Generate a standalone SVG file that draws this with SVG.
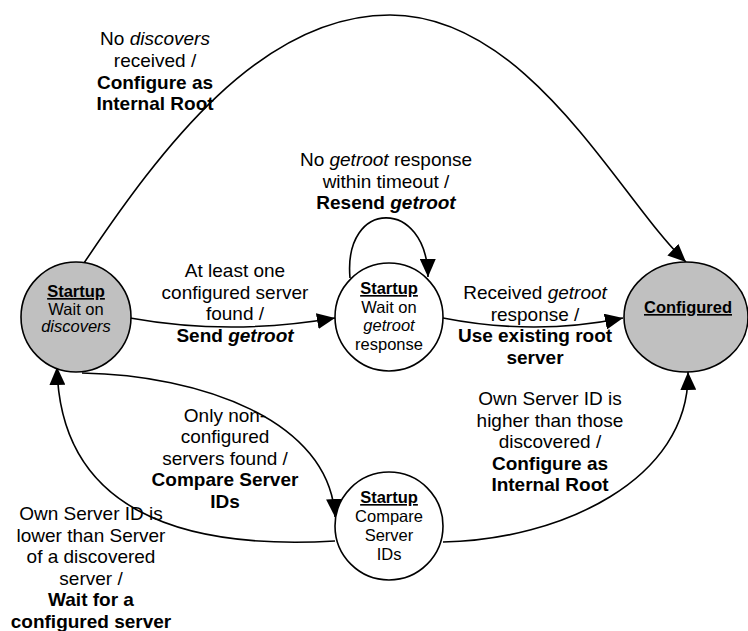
<svg xmlns="http://www.w3.org/2000/svg" width="748" height="631" viewBox="0 0 748 631">
<style>
  text { font-family: "Liberation Sans", Arial, sans-serif; fill: #000; text-anchor: middle; }
  .n { font-size: 16.5px; }
  .l { font-size: 19px; }
  .b { font-weight: bold; }
  .i { font-style: italic; }
  .u { font-weight: bold; text-decoration: underline; }
  .node { stroke: #000; stroke-width: 1.6; }
  .gray { fill: #c0c0c0; }
  .white { fill: #fff; }
  .edge { fill: none; stroke: #000; stroke-width: 1.6; marker-end: url(#arr); }
</style>
<defs>
  <marker id="arr" markerUnits="userSpaceOnUse" markerWidth="18" markerHeight="16" viewBox="0 0 18 16" refX="18" refY="8" orient="auto">
    <path d="M0,0 L18,8 L0,16 Z" fill="#000"/>
  </marker>
</defs>
<rect width="748" height="631" fill="#fff"/>
<g id="connectors">
  <path class="edge" d="M84,263 C160,150 260,15 390,15 C530,15 620,200 686,262"/>
  <path class="edge" d="M130,318 Q230,336 335,318"/>
  <path class="edge" d="M443,318 Q535,336 623,318"/>
  <path class="edge" d="M350,278 C343,198 427,198 428,277"/>
  <path class="edge" d="M82,373 C200,375 330,420 335,517"/>
  <path class="edge" d="M335,541 C180,550 60,510 57,367"/>
  <path class="edge" d="M443,542 C560,540 690,480 688,372"/>
</g>
<g id="labels">
  <text class="l" x="155" y="45">No <tspan class="i">discovers</tspan></text>
  <text class="l" x="155" y="67">received /</text>
  <text class="l b" x="155" y="88.5">Configure as</text>
  <text class="l b" x="155" y="110">Internal Root</text>

  <text class="l" x="386" y="166">No <tspan class="i">getroot</tspan> response</text>
  <text class="l" x="386" y="187.5">within timeout /</text>
  <text class="l b" x="386" y="209">Resend <tspan class="i">getroot</tspan></text>

  <text class="l" x="235" y="277">At least one</text>
  <text class="l" x="235" y="298.5">configured server</text>
  <text class="l" x="235" y="320">found /</text>
  <text class="l b" x="235" y="341.5">Send <tspan class="i">getroot</tspan></text>

  <text class="l" x="535" y="299">Received <tspan class="i">getroot</tspan></text>
  <text class="l" x="535" y="320.5">response /</text>
  <text class="l b" x="535" y="342">Use existing root</text>
  <text class="l b" x="535" y="363.5">server</text>

  <text class="l" x="550" y="405">Own Server ID is</text>
  <text class="l" x="550" y="426.5">higher than those</text>
  <text class="l" x="550" y="448">discovered /</text>
  <text class="l b" x="550" y="469.5">Configure as</text>
  <text class="l b" x="550" y="491">Internal Root</text>

  <text class="l" x="225" y="421.5">Only non-</text>
  <text class="l" x="225" y="443">configured</text>
  <text class="l" x="225" y="464.5">servers found /</text>
  <text class="l b" x="225" y="486">Compare Server</text>
  <text class="l b" x="225" y="507.5">IDs</text>

  <text class="l" x="91" y="520">Own Server ID is</text>
  <text class="l" x="91" y="541.5">lower than Server</text>
  <text class="l" x="91" y="563">of a discovered</text>
  <text class="l" x="91" y="584.5">server /</text>
  <text class="l b" x="91" y="606">Wait for a</text>
  <text class="l b" x="91" y="627.5">configured server</text>
</g>
<g id="startup-discovers">
  <circle class="node gray" cx="76" cy="317" r="55"/>
  <text class="n u" x="76" y="297">Startup</text>
  <text class="n" x="76" y="314.5">Wait on</text>
  <text class="n i" x="76" y="332">discovers</text>
</g>
<g id="startup-getroot">
  <circle class="node white" cx="389" cy="317" r="54"/>
  <text class="n u" x="389" y="294">Startup</text>
  <text class="n" x="389" y="312.5">Wait on</text>
  <text class="n i" x="389" y="331">getroot</text>
  <text class="n" x="389" y="349.5">response</text>
</g>
<g id="configured">
  <ellipse class="node gray" cx="686" cy="317" rx="62" ry="55"/>
  <text class="n u" x="688" y="313">Configured</text>
</g>
<g id="startup-compare">
  <circle class="node white" cx="389" cy="526" r="54"/>
  <text class="n u" x="389" y="503">Startup</text>
  <text class="n" x="389" y="522">Compare</text>
  <text class="n" x="389" y="541">Server</text>
  <text class="n" x="389" y="560">IDs</text>
</g>
</svg>
